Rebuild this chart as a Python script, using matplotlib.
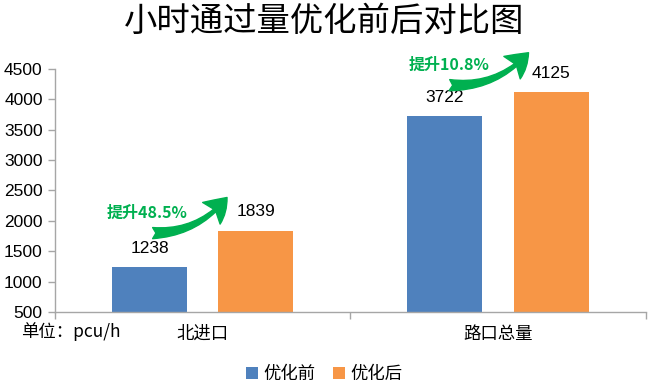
import matplotlib
matplotlib.use("Agg")
import matplotlib.pyplot as plt
import numpy as np
from matplotlib.patches import FancyArrowPatch

plt.rcParams["font.family"] = ["Noto Sans CJK SC", "DejaVu Sans"]

categories = ["北进口", "路口总量"]
series_names = ["优化前", "优化后"]
before = [1238, 3722]
after = [1839, 4125]
y_ticks = [500, 1000, 1500, 2000, 2500, 3000, 3500, 4000, 4500]
colors = ["#4F81BD", "#F79646"]
green = "#00B050"
axis_gray = "#A6A6A6"

# arrow / label placement relative to the bar values (x offset, y offset)
arrow_tail = [(-0.17, 560), (-0.165, 510)]
arrow_head = [(0.082, 545), (0.103, 640)]
label_pos = [(-0.19, 2131), (-0.165, 4569)]

fig = plt.figure(figsize=(6.49, 3.91), dpi=100)
ax = fig.add_axes([0.085, 0.202, 0.91, 0.622])

x = np.arange(len(categories))
width = 0.254
offset = 0.18

bars_b = ax.bar(x - offset, before, width, color=colors[0], label=series_names[0])
bars_a = ax.bar(x + offset, after, width, color=colors[1], label=series_names[1])

num_font = "Liberation Sans"
for bars in (bars_b, bars_a):
    for b in bars:
        ax.annotate(f"{int(b.get_height())}", (b.get_x() + b.get_width() / 2, b.get_height()),
                    xytext=(0, 8), textcoords="offset points", ha="center", va="bottom",
                    fontsize=12.5, family=num_font, color="#000000")

# growth arrows + labels
for i, (b, a) in enumerate(zip(before, after)):
    pct = (a - b) / b * 100
    tail = (i + arrow_tail[i][0], b + arrow_tail[i][1])
    head = (i + arrow_head[i][0], a + arrow_head[i][1])
    arr = FancyArrowPatch(tail, head,
                          arrowstyle="fancy,head_length=0.8,head_width=1.0,tail_width=0.4",
                          connectionstyle="arc3,rad=0.24", color=green, mutation_scale=20,
                          shrinkA=0, shrinkB=0, clip_on=False, zorder=5)
    ax.add_patch(arr)
    ax.text(i + label_pos[i][0], label_pos[i][1], f"提升{pct:.1f}%", color=green,
            fontsize=11.5, fontweight="bold", ha="center", va="center", clip_on=False)

ax.set_xlim(-0.5, 1.5)
ax.set_ylim(500, 4500)
ax.set_yticks(y_ticks)
ax.set_yticklabels([str(t) for t in y_ticks], family=num_font, fontsize=12.5)
ax.set_xticks(x)
ax.set_xticklabels(categories, fontsize=12.5)
ax.set_xticks([-0.5, 0.5, 1.5], minor=True)
ax.tick_params(axis="x", which="major", length=0, pad=9)
ax.tick_params(axis="x", which="minor", length=5, color=axis_gray, width=1)
ax.tick_params(axis="y", length=5, color=axis_gray, width=1, pad=4)

for s in ("top", "right"):
    ax.spines[s].set_visible(False)
for s in ("left", "bottom"):
    ax.spines[s].set_color(axis_gray)
    ax.spines[s].set_linewidth(1)

fig.text(0.5, 0.944, "小时通过量优化前后对比图", ha="center", va="center", fontsize=24)
fig.text(0.032, 0.153, "单位：pcu/h", ha="left", va="center", fontsize=12.5)

fig.legend(loc="center", bbox_to_anchor=(0.5, 0.043), ncol=2, frameon=False, fontsize=12.5,
           handlelength=0.7, handleheight=0.7, handletextpad=0.3, columnspacing=1.0)

fig.savefig("out.png", dpi=100)
